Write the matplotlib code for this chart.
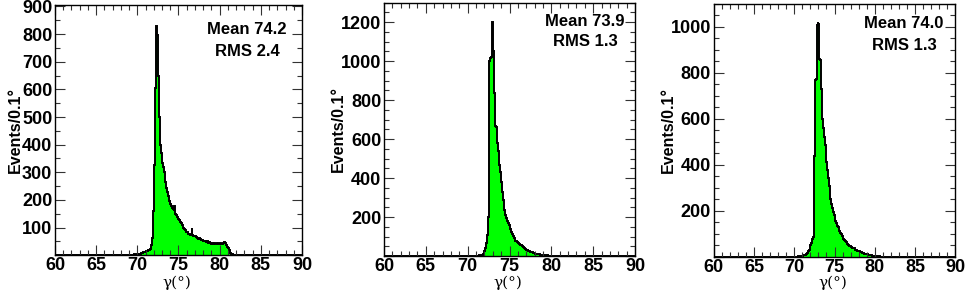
import numpy as np
import matplotlib
matplotlib.use("Agg")
import matplotlib.pyplot as plt
from matplotlib.ticker import MultipleLocator, FuncFormatter

# ---------------- data (Events per 0.1 deg bin) ----------------
bin_width = 0.1
x_range = (60.0, 90.0)

p1_start = 66.0
p1_counts = [
    0, 2, 0, 0, 1, 0, 0, 0, 0, 0,          # 66.0
    0, 0, 0, 0, 0, 0, 0, 0, 0, 0,          # 67.0
    0, 0, 1, 0, 0, 0, 0, 0, 0, 0,          # 68.0
    1, 0, 2, 1, 0, 2, 3, 1, 2, 3,          # 69.0
    3, 2, 4, 5, 6, 8, 10, 11, 12, 13,      # 70.0
    14, 15, 17, 18, 20, 24, 30, 36, 62, 160,   # 71.0
    325, 600, 605, 828, 795, 650, 500, 450, 400, 370,  # 72.0
    335, 320, 300, 275, 265, 245, 230, 215, 205, 195,  # 73.0
    185, 180, 172, 168, 160, 178, 150, 145, 140, 136,  # 74.0
    130, 126, 122, 115, 108, 104, 100, 96, 90, 86,     # 75.0
    83, 80, 78, 76, 74, 72, 100, 73, 70, 69,           # 76.0
    68, 66, 64, 62, 58, 61, 60, 57, 55, 56,            # 77.0
    53, 52, 50, 54, 48, 50, 46, 47, 45, 44,            # 78.0
    42, 45, 41, 43, 40, 42, 41, 44, 40, 42,            # 79.0
    40, 43, 41, 42, 46, 48, 47, 44, 36, 30,            # 80.0
    25, 18, 14, 9, 6, 3, 1, 0, 0, 0,                   # 81.0
]

p2_start = 71.0
p2_counts = [
    1, 2, 2, 3, 4, 5, 6, 8, 10, 14,                    # 71.0
    25, 40, 70, 110, 200, 570, 1000, 1015, 1020, 1200, # 72.0
    1050, 1040, 835, 670, 660, 580, 540, 505, 470, 430,  # 73.0
    380, 330, 290, 255, 235, 210, 195, 182, 170, 160,  # 74.0
    150, 138, 125, 112, 102, 92, 85, 80, 76, 72,       # 75.0
    68, 64, 60, 57, 55, 50, 46, 42, 38, 36,            # 76.0
    33, 30, 28, 26, 24, 22, 21, 19, 17, 16,            # 77.0
    14, 13, 12, 11, 10, 10, 9, 8, 8, 7,                # 78.0
    6, 6, 5, 5, 4, 4, 3, 3, 2, 2,                      # 79.0
    2, 1, 1, 1, 1, 1, 0, 0, 0, 0,                      # 80.0
]

p3_start = 70.5
p3_counts = [
    1, 1, 2, 3, 3,                                     # 70.5
    4, 5, 6, 8, 10, 13, 17, 22, 30, 40,                # 71.0
    50, 60, 75, 85, 140, 440, 770, 775, 1010, 1020,    # 72.0
    1015, 860, 855, 730, 640, 600, 560, 520, 485, 450, # 73.0
    410, 375, 340, 305, 275, 250, 228, 210, 195, 180,  # 74.0
    168, 155, 145, 135, 128, 120, 110, 102, 96, 90,    # 75.0
    85, 78, 72, 68, 62, 58, 55, 50, 47, 44,            # 76.0
    42, 40, 38, 36, 35, 32, 30, 28, 26, 24,            # 77.0
    23, 22, 20, 18, 17, 16, 14, 13, 12, 11,            # 78.0
    10, 9, 8, 7, 6, 6, 5, 4, 4, 3,                     # 79.0
    3, 2, 2, 1, 1, 1, 0, 0, 0, 0,                      # 80.0
]

means = ["74.2", "73.9", "74.0"]
rmss = ["2.4", "1.3", "1.3"]
y_tops = [905, 1300, 1100]
y_majors = [100, 200, 200]
y_minors = [50, 50, 50]
x_ticks = [60, 65, 70, 75, 80, 85, 90]
y_label = "Events/0.1°"
x_label = "γ(°)"

# ---------------- figure ----------------
W, H = 969, 291
fig = plt.figure(figsize=(W / 100, H / 100), dpi=100)

def fx(px):
    return px / W

def fy(py):
    return 1 - py / H

# axes boxes in pixels: left, right, top, bottom
boxes = [(55, 302, 5, 255.3), (384, 635, 2.7, 256.2), (713.7, 955.3, 4, 256.5)]
stats_pos = [(247, 29, 52), (585, 21, 42), (904, 23, 45)]
ylabel_x = [15, 338, 668]

edges = np.round(np.arange(x_range[0], x_range[1] + bin_width / 2, bin_width), 3)
nbins = len(edges) - 1

bold = {"family": "Liberation Sans", "weight": "bold"}

for i, (start, counts) in enumerate([(p1_start, p1_counts), (p2_start, p2_counts), (p3_start, p3_counts)]):
    full = np.zeros(nbins)
    k0 = int(round((start - x_range[0]) / bin_width))
    full[k0:k0 + len(counts)] = counts

    l, r, t, b = boxes[i]
    ax = fig.add_axes([fx(l), fy(b), fx(r - l), (b - t) / H])
    ax.stairs(full, edges, fill=True, color="#00ff00", linewidth=0)
    ax.stairs(full, edges, fill=False, color="black", linewidth=1.4)
    ax.set_xlim(*x_range)
    ax.set_ylim(0, y_tops[i])

    ax.xaxis.set_major_locator(MultipleLocator(5))
    ax.xaxis.set_minor_locator(MultipleLocator(1))
    ax.yaxis.set_major_locator(MultipleLocator(y_majors[i]))
    ax.yaxis.set_minor_locator(MultipleLocator(y_minors[i]))
    ax.set_xticks(x_ticks)
    ax.yaxis.set_major_formatter(FuncFormatter(lambda v, p: "" if v == 0 else f"{int(v)}"))
    ax.tick_params(axis="both", which="both", direction="in", top=True, right=True,
                   width=0.8, color="#333333")
    ax.tick_params(axis="both", which="major", length=7, labelsize=13, pad=2)
    ax.tick_params(axis="x", which="major", pad=1.5)
    ax.tick_params(axis="both", which="minor", length=3.5)
    for lab in ax.get_xticklabels() + ax.get_yticklabels():
        lab.set_fontfamily("Liberation Sans")
        lab.set_fontweight("bold")
    for s in ax.spines.values():
        s.set_linewidth(1.0)

    sx, sy1, sy2 = stats_pos[i]
    fig.text(fx(sx), fy(sy1), f"Mean {means[i]}", ha="center", va="center", fontsize=12, **bold)
    fig.text(fx(sx), fy(sy2), f"RMS {rmss[i]}", ha="center", va="center", fontsize=12, **bold)

    fig.text(fx(ylabel_x[i]), fy((t + b) / 2), y_label, rotation=90, ha="center", va="center",
             fontsize=11.5, **bold)
    fig.text(fx((l + r) / 2 - 2), fy(290), x_label, ha="center", va="bottom", fontsize=11,
             family="DejaVu Serif")

fig.savefig("out.png", dpi=100)
